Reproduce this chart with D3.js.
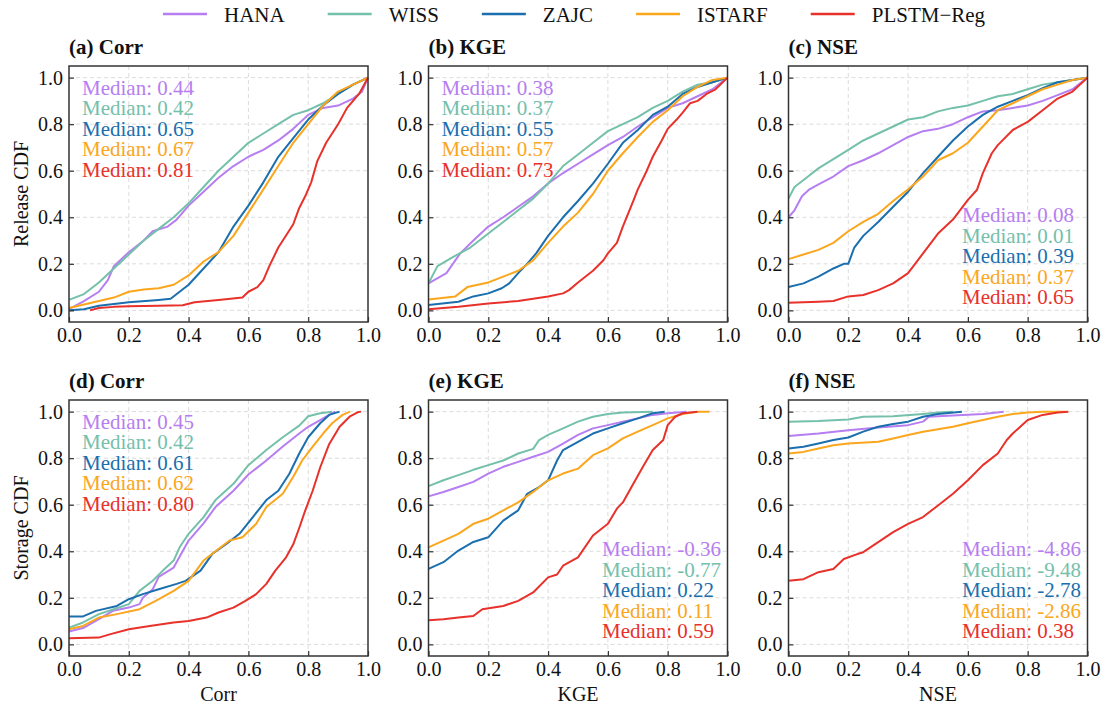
<!DOCTYPE html>
<html>
<head>
<meta charset="utf-8">
<script src="https://cdn.jsdelivr.net/npm/d3@7"></script>
<style>
  body { margin: 0; background: #fff; }
  svg, svg text { font-family: "Liberation Serif", "DejaVu Serif", "Noto Serif", "Times New Roman", Times, serif; }
</style>
</head>
<body>
<div id="chart"></div>
<script>
// ---- data ----
var methods = ["HANA", "WISS", "ZAJC", "ISTARF", "PLSTM\u2212Reg"];
var colors = ["#b67ef0", "#74c0ab", "#1b6fae", "#fba61c", "#e8312a"];
var xTicks = [0, 0.2, 0.4, 0.6, 0.8, 1.0];
var yTicks = [0, 0.2, 0.4, 0.6, 0.8, 1.0];
var panelTitles = ["(a) Corr", "(b) KGE", "(c) NSE", "(d) Corr", "(e) KGE", "(f) NSE"];
var xLabels = ["Corr", "KGE", "NSE"];
var yLabels = ["Release CDF", "Storage CDF"];

var medianA = ["0.44", "0.42", "0.65", "0.67", "0.81"];
var medianB = ["0.38", "0.37", "0.55", "0.57", "0.73"];
var medianC = ["0.08", "0.01", "0.39", "0.37", "0.65"];
var medianD = ["0.45", "0.42", "0.61", "0.62", "0.80"];
var medianE = ["-0.36", "-0.77", "0.22", "0.11", "0.59"];
var medianF = ["-4.86", "-9.48", "-2.78", "-2.86", "0.38"];

// (a) release Corr
var aHANA = [[0,0.005],[0.05,0.04],[0.1,0.08],[0.13,0.13],[0.15,0.19],[0.2,0.25],[0.25,0.30],[0.28,0.34],[0.33,0.36],[0.36,0.39],[0.4,0.45],[0.45,0.51],[0.5,0.57],[0.55,0.62],[0.6,0.66],[0.65,0.69],[0.7,0.73],[0.75,0.78],[0.8,0.84],[0.85,0.87],[0.9,0.88],[0.95,0.91],[0.98,0.94],[1.0,1.0]];
var aWISS = [[0,0.045],[0.05,0.07],[0.1,0.12],[0.15,0.18],[0.2,0.24],[0.25,0.30],[0.3,0.35],[0.35,0.40],[0.4,0.46],[0.45,0.53],[0.5,0.60],[0.55,0.66],[0.6,0.72],[0.65,0.76],[0.7,0.80],[0.75,0.84],[0.8,0.86],[0.85,0.89],[0.9,0.93],[0.95,0.97],[1.0,1.0]];
var aZAJC = [[0,0.0],[0.05,0.005],[0.1,0.02],[0.2,0.035],[0.3,0.045],[0.34,0.05],[0.37,0.08],[0.4,0.11],[0.45,0.18],[0.5,0.25],[0.55,0.36],[0.6,0.45],[0.65,0.55],[0.7,0.66],[0.75,0.74],[0.8,0.82],[0.85,0.88],[0.9,0.93],[0.95,0.97],[1.0,1.0]];
var aISTARF = [[0,0.01],[0.05,0.025],[0.1,0.04],[0.15,0.055],[0.2,0.08],[0.25,0.09],[0.3,0.095],[0.35,0.11],[0.4,0.15],[0.45,0.21],[0.5,0.25],[0.55,0.32],[0.6,0.42],[0.65,0.52],[0.7,0.62],[0.75,0.72],[0.8,0.80],[0.85,0.88],[0.9,0.94],[0.95,0.97],[1.0,1.0]];
var aPLSTM = [[0.07,0.0],[0.1,0.01],[0.15,0.015],[0.2,0.018],[0.3,0.02],[0.38,0.022],[0.42,0.035],[0.5,0.045],[0.58,0.055],[0.6,0.08],[0.63,0.10],[0.65,0.13],[0.67,0.19],[0.7,0.27],[0.72,0.31],[0.75,0.37],[0.77,0.44],[0.79,0.49],[0.81,0.55],[0.83,0.64],[0.86,0.72],[0.9,0.80],[0.93,0.87],[0.97,0.93],[1.0,1.0]];

// (b) release KGE
var bHANA = [[0,0.116],[0.06,0.16],[0.106,0.245],[0.15,0.30],[0.2,0.36],[0.25,0.40],[0.3,0.445],[0.35,0.49],[0.4,0.545],[0.45,0.59],[0.5,0.63],[0.55,0.67],[0.6,0.71],[0.65,0.745],[0.7,0.79],[0.75,0.83],[0.8,0.87],[0.85,0.89],[0.9,0.92],[0.95,0.95],[1.0,1.0]];
var bWISS = [[0,0.116],[0.03,0.19],[0.083,0.23],[0.14,0.27],[0.2,0.33],[0.25,0.38],[0.3,0.43],[0.35,0.48],[0.4,0.545],[0.45,0.62],[0.5,0.67],[0.55,0.72],[0.6,0.77],[0.65,0.80],[0.7,0.83],[0.75,0.87],[0.8,0.90],[0.85,0.94],[0.9,0.97],[0.95,0.98],[1.0,1.0]];
var bZAJC = [[0,0.023],[0.1,0.037],[0.15,0.06],[0.2,0.073],[0.245,0.095],[0.27,0.116],[0.3,0.16],[0.33,0.20],[0.36,0.245],[0.4,0.32],[0.45,0.40],[0.5,0.47],[0.55,0.545],[0.6,0.63],[0.65,0.72],[0.7,0.775],[0.75,0.84],[0.8,0.875],[0.85,0.93],[0.9,0.96],[0.95,0.98],[1.0,1.0]];
var bISTARF = [[0,0.047],[0.09,0.06],[0.13,0.10],[0.2,0.12],[0.25,0.145],[0.3,0.17],[0.35,0.215],[0.4,0.29],[0.45,0.36],[0.5,0.42],[0.55,0.50],[0.6,0.60],[0.65,0.675],[0.7,0.745],[0.75,0.81],[0.8,0.86],[0.85,0.92],[0.9,0.96],[0.95,0.99],[1.0,1.0]];
var bPLSTM = [[0,0.005],[0.1,0.016],[0.2,0.03],[0.3,0.04],[0.4,0.06],[0.45,0.073],[0.47,0.087],[0.5,0.12],[0.55,0.17],[0.585,0.215],[0.6,0.245],[0.63,0.29],[0.65,0.36],[0.685,0.47],[0.7,0.52],[0.73,0.60],[0.75,0.66],[0.78,0.73],[0.8,0.78],[0.83,0.82],[0.85,0.85],[0.875,0.89],[0.9,0.90],[0.93,0.93],[0.96,0.95],[1.0,1.0]];

// (c) release NSE
var cHANA = [[0,0.40],[0.02,0.43],[0.045,0.49],[0.07,0.52],[0.105,0.545],[0.15,0.575],[0.2,0.62],[0.25,0.645],[0.3,0.675],[0.35,0.71],[0.4,0.745],[0.45,0.77],[0.5,0.78],[0.55,0.80],[0.6,0.83],[0.65,0.855],[0.7,0.86],[0.75,0.87],[0.8,0.88],[0.85,0.90],[0.9,0.925],[0.95,0.95],[1.0,1.0]];
var cWISS = [[0,0.48],[0.02,0.53],[0.06,0.57],[0.1,0.61],[0.15,0.65],[0.2,0.69],[0.25,0.73],[0.3,0.76],[0.35,0.79],[0.4,0.82],[0.45,0.83],[0.5,0.855],[0.55,0.87],[0.6,0.88],[0.65,0.90],[0.7,0.92],[0.75,0.93],[0.8,0.95],[0.85,0.97],[0.9,0.98],[0.95,0.99],[1.0,1.0]];
var cZAJC = [[0,0.10],[0.05,0.116],[0.1,0.145],[0.15,0.18],[0.185,0.20],[0.2,0.20],[0.22,0.27],[0.25,0.32],[0.3,0.38],[0.35,0.445],[0.4,0.51],[0.45,0.59],[0.5,0.66],[0.55,0.73],[0.6,0.79],[0.65,0.84],[0.7,0.875],[0.75,0.90],[0.8,0.925],[0.85,0.955],[0.9,0.98],[0.95,0.99],[1.0,1.0]];
var cISTARF = [[0,0.22],[0.05,0.24],[0.1,0.26],[0.15,0.29],[0.2,0.34],[0.25,0.38],[0.3,0.415],[0.35,0.47],[0.4,0.52],[0.45,0.575],[0.5,0.645],[0.55,0.675],[0.6,0.72],[0.65,0.79],[0.7,0.86],[0.75,0.89],[0.8,0.92],[0.85,0.95],[0.9,0.97],[0.95,0.99],[1.0,1.0]];
var cPLSTM = [[0,0.033],[0.1,0.037],[0.15,0.04],[0.2,0.06],[0.25,0.066],[0.3,0.087],[0.35,0.116],[0.4,0.16],[0.45,0.245],[0.5,0.33],[0.55,0.39],[0.6,0.475],[0.63,0.517],[0.65,0.59],[0.68,0.675],[0.7,0.71],[0.75,0.775],[0.8,0.81],[0.85,0.86],[0.9,0.91],[0.95,0.94],[1.0,1.0]];

// (d) storage Corr
var dHANA = [[0,0.055],[0.047,0.07],[0.1,0.108],[0.147,0.144],[0.2,0.158],[0.236,0.173],[0.247,0.20],[0.28,0.237],[0.30,0.29],[0.35,0.33],[0.38,0.40],[0.4,0.446],[0.45,0.52],[0.49,0.59],[0.55,0.66],[0.6,0.73],[0.66,0.79],[0.715,0.85],[0.77,0.906],[0.8,0.935],[0.84,0.964],[0.87,0.986],[0.89,1.0]];
var dWISS = [[0,0.072],[0.047,0.094],[0.1,0.13],[0.147,0.15],[0.2,0.173],[0.236,0.23],[0.28,0.273],[0.314,0.317],[0.35,0.36],[0.37,0.417],[0.4,0.475],[0.45,0.547],[0.49,0.62],[0.55,0.69],[0.6,0.77],[0.66,0.835],[0.715,0.89],[0.77,0.94],[0.8,0.98],[0.84,0.993],[0.88,1.0]];
var dZAJC = [[0,0.12],[0.047,0.12],[0.09,0.144],[0.16,0.165],[0.2,0.194],[0.247,0.216],[0.3,0.237],[0.36,0.26],[0.39,0.273],[0.44,0.317],[0.48,0.39],[0.525,0.43],[0.57,0.475],[0.615,0.547],[0.66,0.62],[0.70,0.66],[0.737,0.733],[0.77,0.82],[0.80,0.89],[0.84,0.95],[0.87,0.986],[0.905,1.0]];
var dISTARF = [[0,0.065],[0.047,0.079],[0.1,0.115],[0.16,0.13],[0.236,0.151],[0.29,0.187],[0.35,0.23],[0.40,0.273],[0.45,0.36],[0.49,0.40],[0.537,0.446],[0.58,0.46],[0.626,0.518],[0.66,0.59],[0.715,0.647],[0.75,0.72],[0.78,0.79],[0.815,0.85],[0.85,0.906],[0.88,0.95],[0.915,0.986],[0.94,1.0]];
var dPLSTM = [[0,0.026],[0.1,0.029],[0.136,0.043],[0.2,0.065],[0.27,0.079],[0.35,0.094],[0.4,0.10],[0.46,0.115],[0.5,0.137],[0.55,0.158],[0.59,0.187],[0.626,0.216],[0.66,0.26],[0.69,0.317],[0.726,0.374],[0.75,0.43],[0.77,0.50],[0.79,0.575],[0.815,0.66],[0.84,0.76],[0.87,0.86],[0.905,0.935],[0.94,0.98],[0.965,0.997],[0.977,1.0]];

// (e) storage KGE
var eHANA = [[0,0.636],[0.05,0.655],[0.1,0.676],[0.15,0.698],[0.2,0.734],[0.25,0.763],[0.3,0.784],[0.35,0.806],[0.4,0.827],[0.45,0.863],[0.5,0.90],[0.55,0.928],[0.6,0.942],[0.65,0.957],[0.7,0.971],[0.75,0.986],[0.8,0.993],[0.863,1.0]];
var eWISS = [[0,0.68],[0.05,0.705],[0.1,0.727],[0.15,0.75],[0.2,0.77],[0.25,0.79],[0.3,0.82],[0.35,0.84],[0.37,0.878],[0.4,0.90],[0.45,0.928],[0.5,0.957],[0.55,0.978],[0.6,0.99],[0.65,0.996],[0.75,1.0]];
var eZAJC = [[0,0.324],[0.05,0.353],[0.1,0.403],[0.15,0.44],[0.2,0.46],[0.25,0.532],[0.3,0.576],[0.33,0.647],[0.37,0.676],[0.4,0.705],[0.43,0.79],[0.45,0.835],[0.5,0.87],[0.55,0.906],[0.6,0.928],[0.65,0.95],[0.7,0.971],[0.75,0.993],[0.79,1.0]];
var eISTARF = [[0,0.417],[0.05,0.446],[0.1,0.475],[0.15,0.518],[0.2,0.54],[0.25,0.576],[0.3,0.61],[0.35,0.655],[0.4,0.705],[0.45,0.734],[0.5,0.755],[0.55,0.813],[0.6,0.842],[0.65,0.885],[0.7,0.914],[0.75,0.942],[0.8,0.971],[0.85,0.99],[0.9,0.999],[0.94,1.0]];
var ePLSTM = [[0,0.104],[0.05,0.108],[0.1,0.115],[0.15,0.122],[0.18,0.151],[0.25,0.165],[0.3,0.187],[0.35,0.223],[0.4,0.288],[0.43,0.30],[0.45,0.338],[0.5,0.374],[0.55,0.468],[0.6,0.518],[0.63,0.583],[0.65,0.61],[0.685,0.69],[0.72,0.77],[0.75,0.835],[0.785,0.878],[0.8,0.942],[0.825,0.978],[0.85,0.993],[0.9,1.0]];

// (f) storage NSE
var fHANA = [[0,0.895],[0.1,0.906],[0.2,0.92],[0.3,0.932],[0.4,0.942],[0.45,0.957],[0.47,0.978],[0.55,0.983],[0.65,0.99],[0.72,1.0]];
var fWISS = [[0,0.957],[0.1,0.96],[0.2,0.966],[0.25,0.978],[0.35,0.98],[0.45,0.99],[0.5,0.996],[0.55,1.0]];
var fZAJC = [[0,0.842],[0.05,0.849],[0.1,0.863],[0.15,0.878],[0.2,0.889],[0.25,0.914],[0.3,0.935],[0.35,0.947],[0.4,0.957],[0.45,0.978],[0.5,0.99],[0.58,1.0]];
var fISTARF = [[0,0.82],[0.05,0.827],[0.1,0.842],[0.15,0.856],[0.2,0.863],[0.3,0.871],[0.35,0.885],[0.4,0.90],[0.45,0.914],[0.5,0.924],[0.55,0.935],[0.6,0.95],[0.65,0.964],[0.7,0.978],[0.75,0.99],[0.8,0.996],[0.85,0.999],[0.925,1.0]];
var fPLSTM = [[0,0.273],[0.05,0.28],[0.1,0.31],[0.15,0.324],[0.185,0.367],[0.23,0.388],[0.25,0.396],[0.3,0.439],[0.35,0.482],[0.4,0.518],[0.45,0.547],[0.5,0.597],[0.55,0.647],[0.6,0.705],[0.65,0.77],[0.7,0.82],[0.73,0.878],[0.75,0.906],[0.8,0.964],[0.85,0.986],[0.9,0.996],[0.936,1.0]];

var panels = [
    { title: panelTitles[0], medians: medianA, where: "top", series: [aHANA, aWISS, aZAJC, aISTARF, aPLSTM] },
    { title: panelTitles[1], medians: medianB, where: "top", series: [bHANA, bWISS, bZAJC, bISTARF, bPLSTM] },
    { title: panelTitles[2], medians: medianC, where: "bottom", series: [cHANA, cWISS, cZAJC, cISTARF, cPLSTM] },
    { title: panelTitles[3], medians: medianD, where: "top", series: [dHANA, dWISS, dZAJC, dISTARF, dPLSTM] },
    { title: panelTitles[4], medians: medianE, where: "bottom", series: [eHANA, eWISS, eZAJC, eISTARF, ePLSTM] },
    { title: panelTitles[5], medians: medianF, where: "bottom", series: [fHANA, fWISS, fZAJC, fISTARF, fPLSTM] }
];

// ---- layout ----
var W = 1106, H = 708;
var serif = "'Liberation Serif', 'DejaVu Serif', 'Noto Serif', 'Times New Roman', Times, serif";
var colLeft = [69, 428.5, 788.5],
    rowTop = [66, 400],
    pw = 299, ph = 256;

var svg = d3.select("#chart")
    .append("svg")
    .attr("width", W)
    .attr("height", H)
    .attr("font-family", serif);

svg.append("rect").attr("width", W).attr("height", H).attr("fill", "#fff");

var fmt = d3.format(".1f");

panels.forEach(function (p, i) {
    var col = i % 3, row = Math.floor(i / 3);
    var g = svg.append("g")
        .attr("transform", "translate(" + colLeft[col] + "," + rowTop[row] + ")");

    var x = d3.scaleLinear().domain([0, 1]).range([0, pw]);
    var y = d3.scaleLinear().domain([-0.05, 1.05]).range([ph, 0]);

    // dashed grid
    g.append("g").selectAll("line")
        .data(xTicks.slice(1, -1))
        .enter().append("line")
        .attr("x1", function (d) { return x(d); })
        .attr("x2", function (d) { return x(d); })
        .attr("y1", 0).attr("y2", ph)
        .attr("stroke", "#dcdcdc").attr("stroke-width", 1)
        .attr("stroke-dasharray", "4,3");
    g.append("g").selectAll("line")
        .data(yTicks)
        .enter().append("line")
        .attr("x1", 0).attr("x2", pw)
        .attr("y1", function (d) { return y(d); })
        .attr("y2", function (d) { return y(d); })
        .attr("stroke", "#dcdcdc").attr("stroke-width", 1)
        .attr("stroke-dasharray", "4,3");

    // CDF curves
    var line = d3.line()
        .x(function (d) { return x(d[0]); })
        .y(function (d) { return y(d[1]); });
    p.series.forEach(function (s, k) {
        g.append("path")
            .datum(s)
            .attr("d", line)
            .attr("fill", "none")
            .attr("stroke", colors[k])
            .attr("stroke-width", 2)
            .attr("stroke-linejoin", "round");
    });

    // axes, ticks pointing in
    var xAxis = g.append("g")
        .attr("transform", "translate(0," + ph + ")")
        .call(d3.axisBottom(x).tickValues(xTicks).tickFormat(fmt)
            .tickSizeInner(-5).tickSizeOuter(0).tickPadding(6));
    var yAxis = g.append("g")
        .call(d3.axisLeft(y).tickValues(yTicks).tickFormat(fmt)
            .tickSizeInner(-5).tickSizeOuter(0).tickPadding(6));
    [xAxis, yAxis].forEach(function (a) {
        a.attr("font-family", serif).attr("font-size", 20);
        a.select(".domain").remove();
        a.selectAll(".tick line").attr("stroke", "#333").attr("stroke-width", 1.2);
        a.selectAll(".tick text").attr("fill", "#111");
    });

    // frame
    g.append("rect")
        .attr("width", pw).attr("height", ph)
        .attr("fill", "none")
        .attr("stroke", "#333").attr("stroke-width", 1.5);

    // panel title
    g.append("text")
        .attr("x", 0).attr("y", -12)
        .attr("font-size", 21).attr("font-weight", "bold")
        .attr("fill", "#111")
        .text(p.title);

    // median labels
    var mx = p.where === "top" ? 13 : 173.5,
        my = p.where === "top" ? 28.5 : 156;
    p.medians.forEach(function (m, k) {
        g.append("text")
            .attr("x", mx).attr("y", my + k * 20.5)
            .attr("font-size", 21)
            .attr("fill", colors[k])
            .text("Median: " + m);
    });

    // axis titles
    if (col === 0) {
        g.append("text")
            .attr("transform", "translate(" + (28 - colLeft[0]) + "," + (ph / 2) + ") rotate(-90)")
            .attr("text-anchor", "middle")
            .attr("font-size", 20).attr("fill", "#111")
            .text(yLabels[row]);
    }
    if (row === 1) {
        g.append("text")
            .attr("x", pw / 2).attr("y", 701 - rowTop[1])
            .attr("text-anchor", "middle")
            .attr("font-size", 20).attr("fill", "#111")
            .text(xLabels[col]);
    }
});

// ---- legend on top ----
var legend = svg.append("g").attr("class", "legend");
var items = legend.selectAll("g")
    .data(methods)
    .enter().append("g");
items.append("line")
    .attr("x1", 0).attr("x2", 44)
    .attr("y1", 14).attr("y2", 14)
    .attr("stroke", function (d, k) { return colors[k]; })
    .attr("stroke-width", 2.5);
items.append("text")
    .attr("x", 61).attr("y", 22)
    .attr("font-size", 21).attr("fill", "#111")
    .text(function (d) { return d; });

var lx = 163;
items.each(function () {
    var w = d3.select(this).select("text").node().getComputedTextLength();
    d3.select(this).attr("transform", "translate(" + lx + ",0)");
    lx += 61 + w + 43;
});
</script>
</body>
</html>
